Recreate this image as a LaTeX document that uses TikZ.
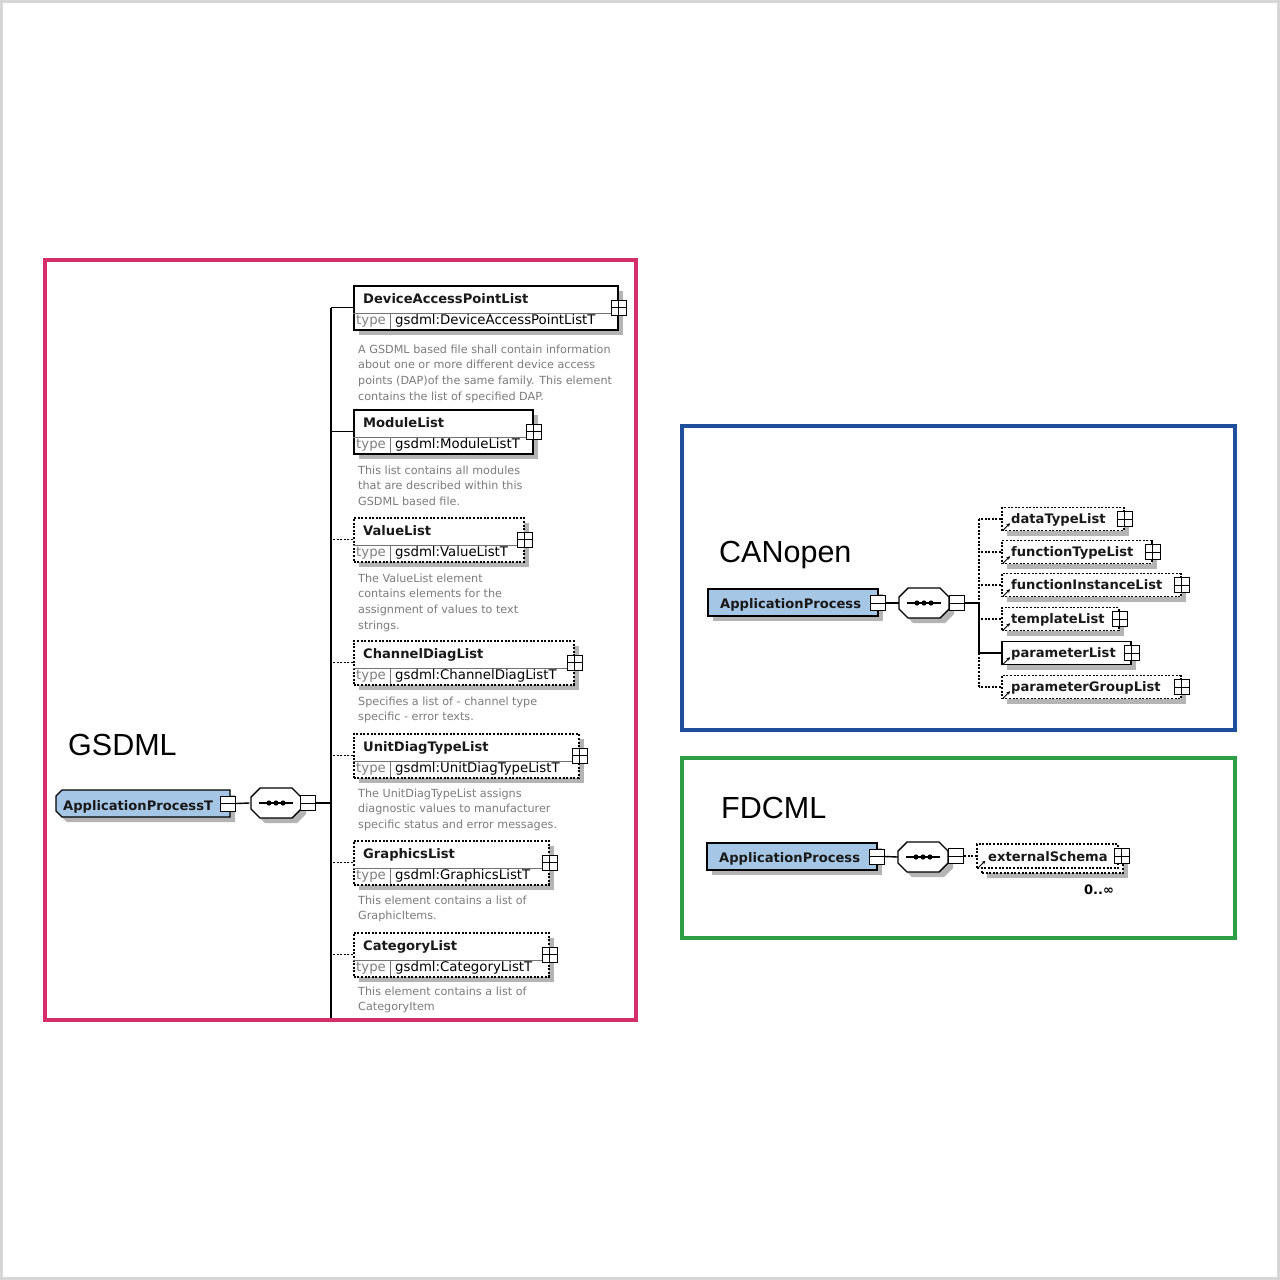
\documentclass[tikz,border=0pt]{standalone}
\usepackage{fontspec}
\setmainfont{Liberation Sans}
\newfontfamily\dvs{DejaVu Sans}
\usetikzlibrary{shadows,calc,arrows.meta}
\definecolor{pinkc}{HTML}{D62E6A}
\definecolor{bluec}{HTML}{1E4E9C}
\definecolor{greenc}{HTML}{2E9E44}
\definecolor{lblue}{HTML}{A6C6E6}
\definecolor{shadc}{HTML}{B4B4B4}
\definecolor{descc}{HTML}{7C7C7C}
\definecolor{framec}{HTML}{D6D6D6}
\tikzset{
  sh/.style={drop shadow={shadow xshift=5pt,shadow yshift=-5pt,fill=shadc,opacity=1}},
  ebox/.style={draw=black,line width=1.5pt,fill=white,inner sep=0pt,sh},
  opt/.style={dash pattern=on 2pt off 1.6pt},
  conn/.style={draw=black,line width=1.4pt},
  lbl/.style={font=\dvs\bfseries\fontsize{13.1}{15}\selectfont,inner sep=0pt,anchor=base west,text=black!90},
  typel/.style={font=\dvs\fontsize{13.3}{15}\selectfont,inner sep=0pt,anchor=base west,text=black!50},
  typev/.style={font=\dvs\fontsize{13.3}{15}\selectfont,inner sep=0pt,anchor=base west},
  desc/.style={font=\dvs\fontsize{11.2}{15.8}\selectfont,inner sep=0pt,anchor=base west,text=descc},
  ttl/.style={font=\fontsize{30.5}{34}\selectfont,inner sep=0pt,anchor=base west},
  plusb/.style={draw=black,fill=white,line width=1pt,minimum size=15pt,inner sep=0pt,
    path picture={\draw[line width=1pt] (path picture bounding box.north) -- (path picture bounding box.south)
      (path picture bounding box.west) -- (path picture bounding box.east);}},
  minusb/.style={draw=black,fill=white,line width=1pt,minimum size=15pt,inner sep=0pt,
    path picture={\draw[line width=1pt] (path picture bounding box.west) -- (path picture bounding box.east);}},
  seqc/.style={rectangle,minimum width=50pt,minimum height=30pt,inner sep=0pt},
  refarr/.style={line width=0.9pt,-{Stealth[length=3.5pt,width=3.5pt]}},
  boxframe/.style={line width=3.2pt},
}
% compositor outline (chamfered) drawn round a named node
\newcommand\seqshape[1]{%
  \begin{scope}[shift={(#1.center)}]
    \fill[shadc] (-20,-1) -- (-11,-10) -- (21,-10) -- (30,-1) -- (30,11) -- (21,20) -- (-11,20) -- (-20,11) -- cycle;
    \draw[line width=1.4pt,fill=white] (-25,-6) -- (-16,-15) -- (16,-15) -- (25,-6) -- (25,6) -- (16,15) -- (-16,15) -- (-25,6) -- cycle;
    \draw[line width=1.2pt] (-17,0) -- (17,0);
    \foreach \dx in {-7,0,7} \fill (\dx,0) circle[radius=2.6pt];
  \end{scope}}
% GSDML child element: id, border style, top, width, name, type, desc offset, desc
\newcommand\gchild[8]{%
  \node[ebox,#2,minimum width=#4,minimum height=44,anchor=north west] (#1) at (353,#3) {};
  \draw[line width=0.8pt,black!55] ($(#1.north west)+(0,28)$) -- ($(#1.north east)+(0,28)$);
  \draw[line width=0.8pt,black!55] ($(#1.north west)+(37,28)$) -- ($(#1.north west)+(37,44)$);
  \node[lbl] (#1-n) at ($(#1.north west)+(10,18)$) {#5};
  \node[typel] (#1-t) at ($(#1.north west)+(3,39.5)$) {type};
  \node[typev] (#1-v) at ($(#1.north west)+(42,39.5)$) {#6};
  \node[plusb] (#1-p) at (#1.east) {};
  \node[desc] (#1-d) at ($(#1.north west)+(5,#7)$) {\parbox[t]{300pt}{\raggedright #8}};
  \draw[conn,#2] (#1.west) -- (#1.west -| gx);
}
% CANopen child element: id, border style, mid y, width, name
\newcommand\cchild[5]{%
  \node[ebox,#2,minimum width=#4,minimum height=23,anchor=west] (#1) at (1001,#3) {};
  \node[lbl] (#1-n) at ($(#1.west)+(10,4.5)$) {#5};
  \node[plusb] (#1-p) at (#1.east) {};
  \draw[refarr] ($(#1.south west)+(2,-1)$) -- ++(7,-7);
  \draw[conn,#2] (#1.west) -- (#1.west -| ctr);
}
\begin{document}
\begin{tikzpicture}[x=1pt,y=-1pt]
\useasboundingbox (0,0) rectangle (1280,1280);
\fill[white] (0,0) rectangle (1280,1280);
\draw[framec,line width=3pt] (1.5,1.5) rectangle (1278.5,1278.5);

% ---------------- GSDML ----------------
\draw[boxframe,pinkc] (45,260) rectangle (636,1020);
\node[ttl] (gt) at (68,755) {GSDML};
\coordinate (gx) at (331,1018);

\node[minimum width=174pt,minimum height=27pt,inner sep=0pt] (apt) at (143,803.5) {};
\begin{scope}[shift={(apt.center)}]
  \fill[shadc] (-82,-2.5) -- (-76,-8.5) -- (92,-8.5) -- (92,18.5) -- (-76,18.5) -- (-82,12.5) -- cycle;
  \draw[line width=1.3pt,fill=lblue] (-87,-7.5) -- (-81,-13.5) -- (87,-13.5) -- (87,13.5) -- (-81,13.5) -- (-87,7.5) -- cycle;
\end{scope}
\node[lbl] (apt-l) at (63,810) {ApplicationProcessT};
\node[minusb] (apt-m) at ($(apt.east)+(-2,0)$) {};
\node[seqc,minimum width=53pt] (gseq) at (276,803) {};
\seqshape{gseq}
\node[minusb] (gseq-m) at ($(gseq.east)+(5,0)$) {};
\draw[conn] (apt-m.east) -- (gseq.west);

\gchild{dap}{solid}{285}{264}{DeviceAccessPointList}{gsdml:DeviceAccessPointListT}{68}{A GSDML based file shall contain information\\about one or more different device access\\points (DAP)of the same family. This element\\contains the list of specified DAP.}
\draw[conn] (dap.west -| gx) -- (gx);
\draw[conn] (gseq-m.east) -- (gseq-m.east -| gx);
\gchild{mod}{solid}{409}{179}{ModuleList}{gsdml:ModuleListT}{65}{This list contains all modules\\that are described within this\\GSDML based file.}
\gchild{val}{opt}{517}{170}{ValueList}{gsdml:ValueListT}{65}{The ValueList element\\contains elements for the\\assignment of values to text\\strings.}
\gchild{chd}{opt}{640}{220}{ChannelDiagList}{gsdml:ChannelDiagListT}{65}{Specifies a list of - channel type\\specific - error texts.}
\gchild{udt}{opt}{733}{225}{UnitDiagTypeList}{gsdml:UnitDiagTypeListT}{64}{The UnitDiagTypeList assigns\\diagnostic values to manufacturer\\specific status and error messages.}
\gchild{gfx}{opt}{840}{195}{GraphicsList}{gsdml:GraphicsListT}{64}{This element contains a list of\\GraphicItems.}
\gchild{cat}{opt}{932}{195}{CategoryList}{gsdml:CategoryListT}{63}{This element contains a list of\\CategoryItem}

% ---------------- CANopen ----------------
\draw[boxframe,bluec] (682,426) rectangle (1235,730);
\node[ttl] (ct) at (719,562) {CANopen};
\node[ebox,fill=lblue,line width=1.3pt,minimum width=170,minimum height=27] (cap) at (793,602.5) {};
\node[lbl] (cap-l) at (720,608) {ApplicationProcess};
\node[minusb] (cap-m) at ($(cap.east)+(-1,0.5)$) {};
\node[seqc] (cseq) at (924,603) {};
\seqshape{cseq}
\node[minusb] (cseq-m) at ($(cseq.east)+(8,0)$) {};
\draw[conn] (cap-m.east) -- (cseq.west);
\coordinate (ctr) at (979,603);
\cchild{c1}{opt}{519}{122}{dataTypeList}
\cchild{c2}{opt}{552}{150}{functionTypeList}
\cchild{c3}{opt}{585}{179}{functionInstanceList}
\cchild{c4}{opt}{619}{117}{templateList}
\cchild{c5}{solid}{653}{129}{parameterList}
\cchild{c6}{opt}{687}{179}{parameterGroupList}
\draw[conn] (cseq-m.east) -- (ctr);
\draw[conn,opt] (c1.west -| ctr) -- (ctr);
\draw[conn] (ctr) -- (c5.west -| ctr);
\draw[conn,opt] (c5.west -| ctr) -- (c6.west -| ctr);

% ---------------- FDCML ----------------
\draw[boxframe,greenc] (682,758) rectangle (1235,938);
\node[ttl] (ft) at (721,818) {FDCML};
\node[ebox,fill=lblue,line width=1.3pt,minimum width=170,minimum height=27] (fap) at (792,856.5) {};
\node[lbl] (fap-l) at (719,862) {ApplicationProcess};
\node[minusb] (fap-m) at ($(fap.east)+(-1,0)$) {};
\node[seqc] (fseq) at (923,857) {};
\seqshape{fseq}
\node[minusb] (fseq-m) at ($(fseq.east)+(8,-1)$) {};
\draw[conn] (fap-m.east) -- (fseq.west);
\node[ebox,opt,minimum width=141,minimum height=24] (fesb) at (1052.5,861) {};
\node[draw=black,line width=1.5pt,fill=white,inner sep=0pt,opt,minimum width=141,minimum height=24] (fes) at (1047.5,856) {};
\node[lbl] (fes-l) at (988,861.5) {externalSchema};
\node[plusb] (fes-p) at ($(fes.east)+(3,0)$) {};
\draw[refarr] ($(fes.south west)+(2,-1)$) -- ++(7,-7);
\draw[conn,opt] (fseq-m.east) -- (fes.west);
\node[font=\dvs\bfseries\fontsize{13}{15}\selectfont,inner sep=0pt] (fmult) at (1099,890) {0..∞};
\end{tikzpicture}
\end{document}
